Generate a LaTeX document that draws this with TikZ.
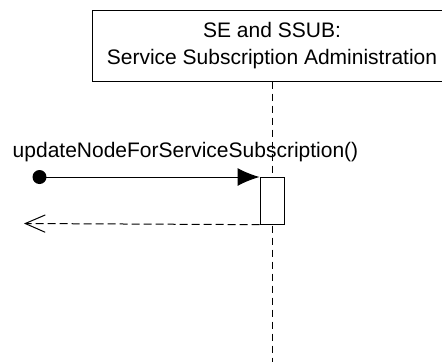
\documentclass[tikz,border=0pt]{standalone}
\usepackage{fontspec}
\setmainfont{Liberation Sans}
\usetikzlibrary{arrows.meta,positioning}

\tikzset{
  msgtext/.style={font=\fontsize{15.75}{20.25}\selectfont},
  objbox/.style={draw=black, line width=0.75pt, fill=white, align=center,
    msgtext, minimum width=270pt, minimum height=53.25pt},
  actbox/.style={draw=black, line width=0.75pt, fill=white,
    minimum width=18pt, minimum height=35pt, inner sep=0pt},
  lifeline/.style={draw=black, line width=0.75pt, dash pattern=on 5.25pt off 3.75pt},
  callmsg/.style={draw=black, line width=0.75pt, -{Latex[length=16.5pt,width=13.5pt]}},
  returnmsg/.style={draw=black, line width=0.75pt, dash pattern=on 6pt off 3pt,
    -{Straight Barb[length=15pt,width=13pt]}},
  startdot/.style={circle, fill=black, inner sep=0pt, minimum size=10.5pt}
}

\begin{document}
\begin{tikzpicture}[x=0.75pt,y=-0.75pt]
  \useasboundingbox (0,0) rectangle (442,362);

  % participant and its lifeline
  \node[objbox] (ssub) at (272,45.5) {SE and SSUB:\\Service Subscription Administration};
  \coordinate (lifeend) at (272,362);
  \draw[lifeline] (ssub.south) -- (lifeend);

  % activation
  \node[actbox, anchor=north] (act) at (272,177) {};

  % call and return
  \node[startdot] (caller) at (39.5,177) {};
  \coordinate (back) at (24,223.5);
  \node[msgtext, anchor=base] (msg) at (185.5,157) {updateNodeForServiceSubscription()};

  \draw[callmsg] (caller.center) -- (act.north west);
  \draw[returnmsg] (act.south west) -- (back);
\end{tikzpicture}
\end{document}
